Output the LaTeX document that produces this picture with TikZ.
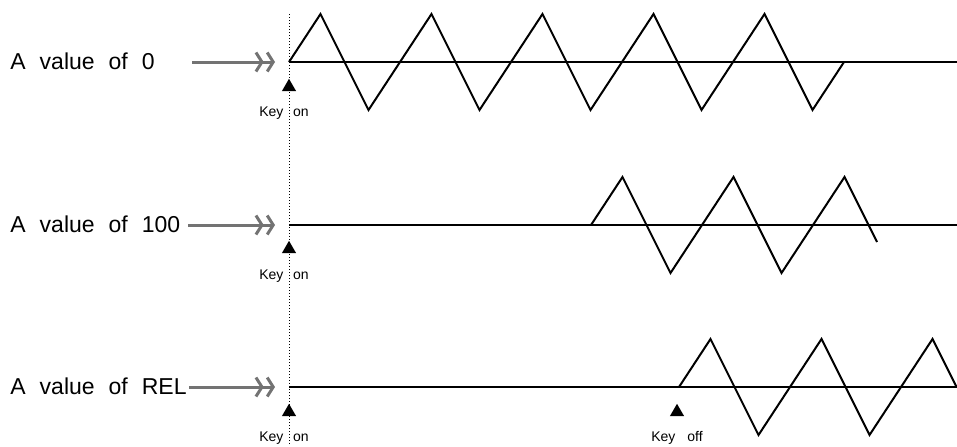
\documentclass[tikz,border=0pt]{standalone}
\usepackage{fontspec}
\setmainfont{Liberation Sans}
\usetikzlibrary{shapes.geometric, arrows.meta, positioning, calc}
\newcommand\labtextfont{\fontsize{11.5}{14}\selectfont\spaceskip=7pt\relax}
\newcommand\keytextfont{\fontsize{7}{9}\selectfont\spaceskip=4.8pt\relax}
\newcommand\keyofffont{\fontsize{7}{9}\selectfont\spaceskip=6pt\relax}

\begin{document}
\begin{tikzpicture}[
    x=0.5pt, y=-0.5pt,
    rowlab/.style  = {anchor=base west, inner sep=0pt, font=\labtextfont},
    keytext/.style = {anchor=base, inner sep=0pt, font=\keytextfont},
    keymark/.style = {regular polygon, regular polygon sides=3, fill,
                      inner sep=0pt, minimum size=8.2pt},
    feed/.style    = {black!55, line width=1.5pt,
                      -{Straight Barb[length=3pt,width=9.5pt,sep=1pt]
                        Straight Barb[length=3pt,width=9.5pt]}},
    track/.style   = {line width=1.4pt},
    wave/.style    = {line width=1pt, line join=miter},
    keyline/.style = {densely dotted, line width=0.5pt}
  ]
  \useasboundingbox (0,0) rectangle (957,446);

  % Key-on line
  \coordinate (ktop) at (289,14);
  \coordinate (kbot) at (289,446);
  \draw[keyline] (ktop) -- (kbot);

  % A value of 0
  \node[rowlab] (lab0) at (10,69) {A value of 0};
  \coordinate (f0) at (192,62);
  \coordinate (s0) at (289,62);
  \coordinate (e0) at (957,62);
  \draw[feed] (f0) -- ($(s0)+(-14,0)$);
  \draw[track] (s0) -- (e0);
  \draw[wave] (s0) \foreach \k in {1,...,5}{
    -- ++(31.5,-48) -- ++(48,96) -- ++(31.5,-48)};
  \node[keymark] (m0) at (289,87) {};
  \node[keytext] (on0) at (284,116) {Key on};

  % A value of 100
  \node[rowlab] (lab100) at (10,232) {A value of 100};
  \coordinate (f100) at (188,225);
  \coordinate (s100) at (289,225);
  \coordinate (e100) at (957,225);
  \coordinate (w100) at (591,225);
  \draw[feed] (f100) -- ($(s100)+(-14,0)$);
  \draw[track] (s100) -- (e100);
  \draw[wave] (w100) \foreach \k in {1,2}{
    -- ++(31.5,-48) -- ++(48,96) -- ++(31.5,-48)}
    -- ++(31.5,-48) -- ++(32.5,65);
  \node[keymark] (m100) at (289,249) {};
  \node[keytext] (on100) at (284,279) {Key on};

  % A value of REL
  \node[rowlab] (labrel) at (10,394) {A value of REL};
  \coordinate (frel) at (189,387);
  \coordinate (srel) at (289,387);
  \coordinate (erel) at (957,387);
  \coordinate (wrel) at (679,387);
  \draw[feed] (frel) -- ($(srel)+(-14,0)$);
  \draw[track] (srel) -- (erel);
  \draw[wave] (wrel) \foreach \k in {1,2}{
    -- ++(31.5,-48) -- ++(48,96) -- ++(31.5,-48)}
    -- ++(31.5,-48) -- ++(24,48);
  \node[keymark] (mrel) at (289,412) {};
  \node[keytext] (onrel) at (284,441) {Key on};

  % Key off
  \node[keymark] (moff) at (677,412) {};
  \node[keytext, font=\keyofffont] (off) at (677,441) {Key off};
\end{tikzpicture}
\end{document}
